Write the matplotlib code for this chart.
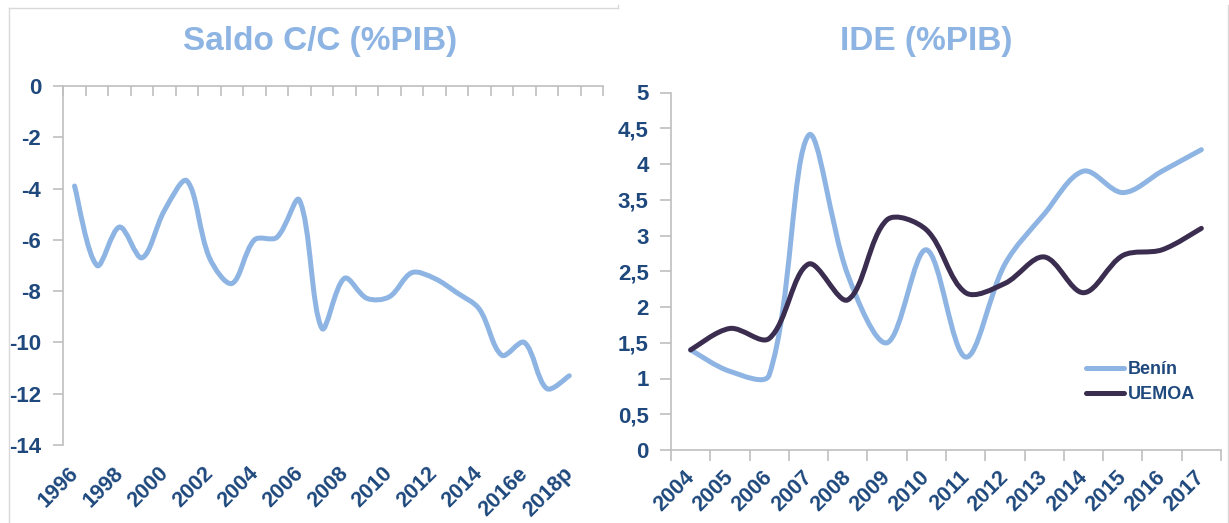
import matplotlib
matplotlib.use("Agg")
import matplotlib.pyplot as plt
import numpy as np
from matplotlib.path import Path
from matplotlib.patches import PathPatch
from matplotlib.lines import Line2D
from matplotlib.transforms import ScaledTranslation

plt.rcParams['font.family'] = ['Liberation Sans', 'DejaVu Sans']
plt.rcParams['font.weight'] = 'bold'
plt.rcParams['axes.unicode_minus'] = False

# ---- data ----
cc_years = ['1996', '1997', '1998', '1999', '2000', '2001', '2002', '2003',
            '2004', '2005', '2006', '2007', '2008', '2009', '2010', '2011',
            '2012', '2013', '2014', '2015', '2016e', '2017', '2018p', '2019']
cc_values = [-3.9, -7.0, -5.5, -6.7, -4.85, -3.7, -6.7, -7.7, -6.0, -5.9,
             -4.45, -9.45, -7.5, -8.28, -8.22, -7.28, -7.5, -8.06, -8.7,
             -10.5, -10.0, -11.8, -11.3]

ide_years = ['2004', '2005', '2006', '2007', '2008', '2009', '2010', '2011',
             '2012', '2013', '2014', '2015', '2016', '2017']
benin = [1.4, 1.1, 1.05, 4.4, 2.45, 1.5, 2.8, 1.3, 2.6, 3.3, 3.9, 3.6, 3.9, 4.2]
uemoa = [1.4, 1.7, 1.56, 2.6, 2.1, 3.22, 3.08, 2.2, 2.33, 2.7, 2.2, 2.72, 2.8, 3.1]

LIGHT = '#8DB4E2'
DARK = '#3B2D4F'
LABEL = '#1F497D'
GRID = '#BFBFBF'
FRAME = '#D9D9D9'


def smooth_line(ax, xs, ys, color, lw):
    # excel-like smoothed line, bezier segments computed in pixel space
    pts = ax.transData.transform(np.column_stack([xs, ys]))
    n = len(pts)
    verts = [pts[0]]
    codes = [Path.MOVETO]
    for i in range(n - 1):
        p0 = pts[max(i - 1, 0)]
        p1 = pts[i]
        p2 = pts[i + 1]
        p3 = pts[min(i + 2, n - 1)]
        d01 = np.hypot(*(p1 - p0))
        d12 = np.hypot(*(p2 - p1))
        d23 = np.hypot(*(p3 - p2))
        f1 = d12 / (d01 + d12) if d01 > 0 else 0.5
        f2 = d12 / (d12 + d23) if d23 > 0 else 0.5
        c1 = p1 + (p2 - p0) * f1 / 3
        c2 = p2 - (p3 - p1) * f2 / 3
        verts += [c1, c2, p2]
        codes += [Path.CURVE4] * 3
    verts = ax.transData.inverted().transform(np.array(verts))
    patch = PathPatch(Path(verts, codes), facecolor='none', edgecolor=color,
                      lw=lw, capstyle='round', joinstyle='round', zorder=3)
    ax.add_patch(patch)


def rotate_labels(labels, fig):
    shift = ScaledTranslation(-7 / 100, 0, fig.dpi_scale_trans)
    for lab in labels:
        lab.set_rotation(45)
        lab.set_ha('right')
        lab.set_va('top')
        lab.set_rotation_mode('anchor')
        lab.set_transform(lab.get_transform() + shift)


fig = plt.figure(figsize=(12.29, 5.23), dpi=100)
W, H = 1229, 523

# ---- left: saldo C/C ----
ax1 = fig.add_axes([63.3 / W, 1 - 445 / H, (603 - 63.3) / W, (445 - 86) / H])
ax1.set_xlim(-0.5, len(cc_years) - 0.5)
ax1.set_ylim(-14, 0)
for s in ['right', 'bottom']:
    ax1.spines[s].set_visible(False)
for s in ['left', 'top']:
    ax1.spines[s].set_color(GRID)
    ax1.spines[s].set_linewidth(1.2)

yt = np.arange(-14, 1, 2)
ax1.set_yticks(yt, [str(v) for v in yt])
ax1.tick_params(axis='y', direction='out', length=7, width=1.2, color=GRID,
                labelsize=16, labelcolor=LABEL, pad=9)

centers = np.arange(len(cc_years))
ax1.set_xticks(centers[::2], cc_years[::2])
ax1.tick_params(axis='x', which='major', length=0, labelsize=15.5,
                labelcolor=LABEL, pad=13)
rotate_labels(ax1.get_xticklabels(), fig)
ax1.set_xticks(np.arange(-0.5, len(cc_years)), minor=True)
ax1.tick_params(axis='x', which='minor', bottom=False, top=True,
                direction='in', length=7, width=1.2, color=GRID)

smooth_line(ax1, np.arange(len(cc_values)), cc_values, LIGHT, 3.6)

fig.text(320 / W, 1 - 50 / H, 'Saldo C/C (%PIB)', ha='center', va='baseline',
         fontsize=24, color=LIGHT, fontweight='bold')

# ---- right: IDE ----
ax2 = fig.add_axes([671 / W, 1 - 450 / H, (1221 - 671) / W, (450 - 92.5) / H])
ax2.set_xlim(-0.5, len(ide_years) - 0.5)
ax2.set_ylim(0, 5)
for s in ['right', 'top']:
    ax2.spines[s].set_visible(False)
for s in ['left', 'bottom']:
    ax2.spines[s].set_color(GRID)
    ax2.spines[s].set_linewidth(1.2)

yt2 = np.arange(0, 5.01, 0.5)
ax2.set_yticks(yt2, [('%g' % v).replace('.', ',') for v in yt2])
ax2.tick_params(axis='y', direction='out', length=8, width=1.2, color=GRID,
                labelsize=16, labelcolor=LABEL, pad=8)

ax2.set_xticks(np.arange(-0.5, len(ide_years)), [''] * (len(ide_years) + 1))
ax2.tick_params(axis='x', which='major', direction='out', length=8, width=1.2,
                color=GRID)
ax2.set_xticks(np.arange(len(ide_years)), ide_years, minor=True)
ax2.tick_params(axis='x', which='minor', length=0, labelsize=15.5,
                labelcolor=LABEL, pad=12)
rotate_labels(ax2.get_xticklabels(minor=True), fig)

xs2 = np.arange(len(ide_years))
smooth_line(ax2, xs2, benin, LIGHT, 3.6)
smooth_line(ax2, xs2, uemoa, DARK, 3.6)

handles = [Line2D([], [], color=LIGHT, lw=3.6, solid_capstyle='round'),
           Line2D([], [], color=DARK, lw=3.6, solid_capstyle='round')]
leg = fig.legend(handles, ['Benín', 'UEMOA'], loc='upper left',
                 bbox_to_anchor=(1086 / W, 1 - 361 / H), frameon=False,
                 fontsize=13, handlelength=2.1, handletextpad=0.2,
                 labelspacing=0.45, borderpad=0, borderaxespad=0)
for t in leg.get_texts():
    t.set_color(LABEL)
    t.set_fontweight('bold')

fig.text(926 / W, 1 - 50 / H, 'IDE (%PIB)', ha='center', va='baseline',
         fontsize=24, color=LIGHT, fontweight='bold')

# panel frames
fig.add_artist(Line2D([9 / W, 618 / W], [1 - 8 / H, 1 - 8 / H],
                      transform=fig.transFigure, color=FRAME, lw=1))
fig.add_artist(Line2D([9 / W, 9 / W], [1 - 8 / H, 0],
                      transform=fig.transFigure, color=FRAME, lw=1))
fig.add_artist(Line2D([618 / W, 618 / W], [1 - 8 / H, 1 - 5 / H],
                      transform=fig.transFigure, color=FRAME, lw=1))
fig.add_artist(Line2D([1228 / W, 1228 / W], [1 - 5 / H, 0],
                      transform=fig.transFigure, color=FRAME, lw=1))

fig.savefig('out.png', dpi=100)
